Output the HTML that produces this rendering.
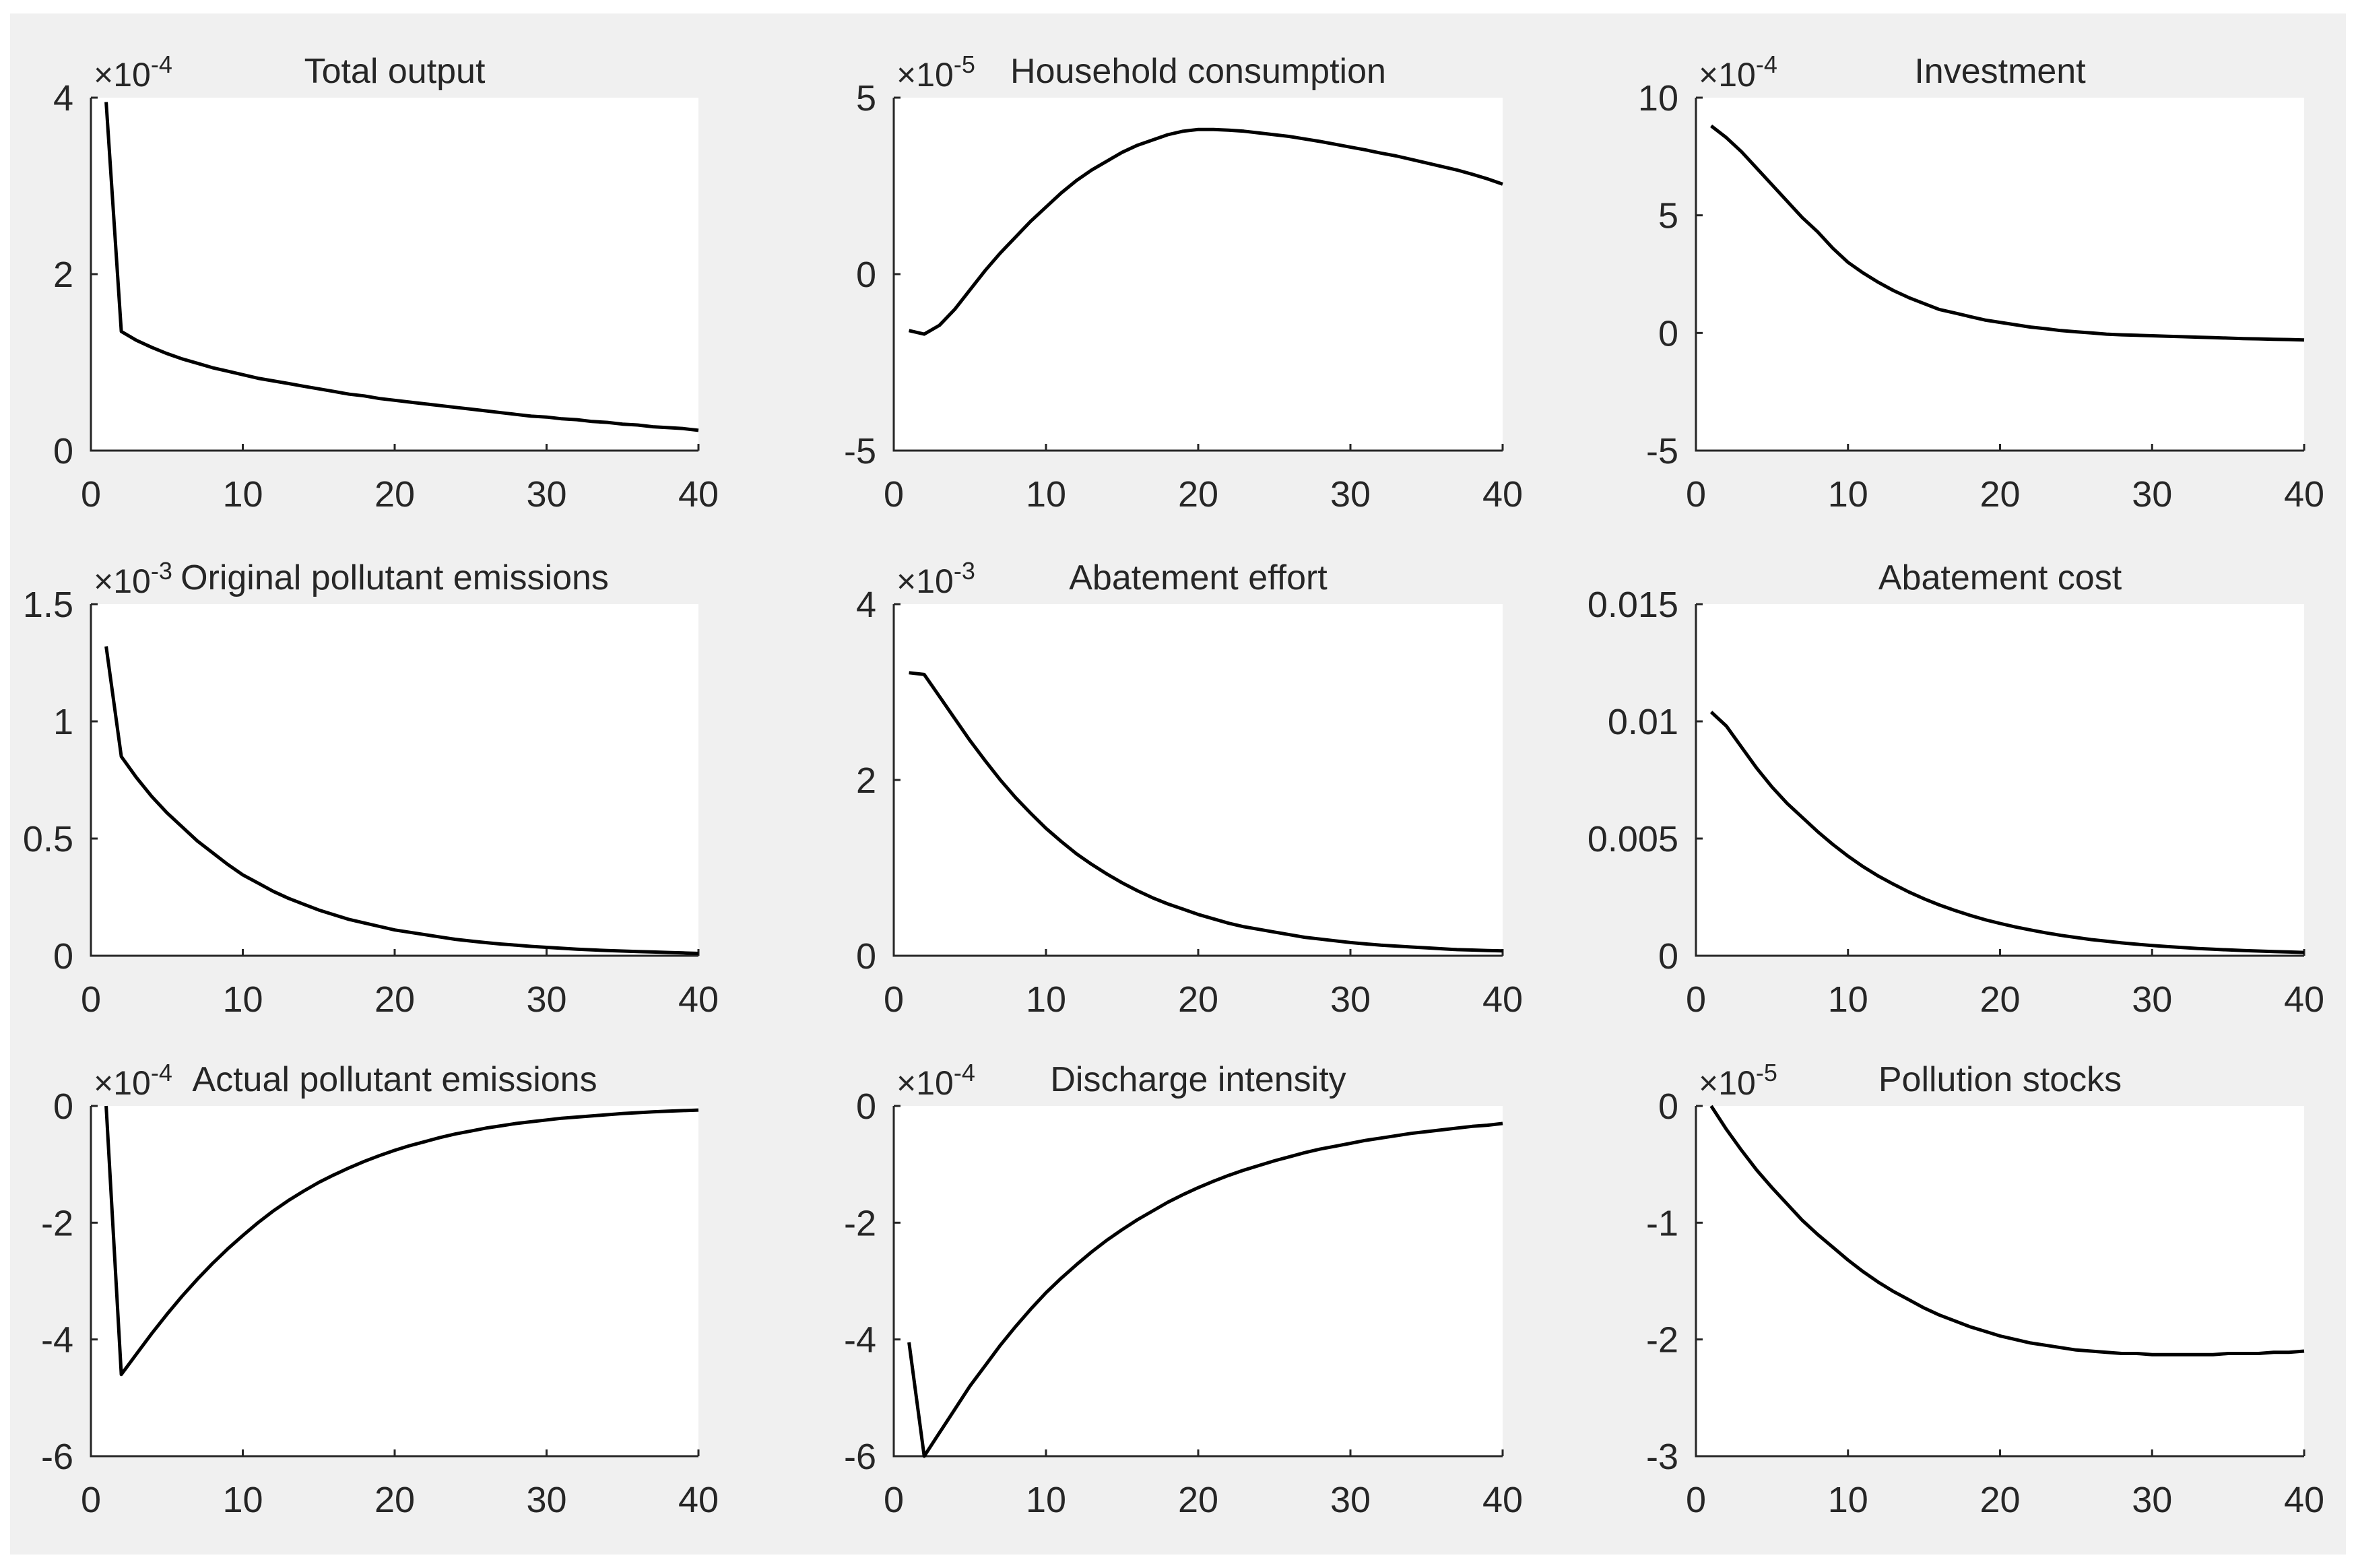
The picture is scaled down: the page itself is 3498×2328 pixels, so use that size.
<!DOCTYPE html>
<html><head><meta charset="utf-8">
<style>
html,body{margin:0;padding:0;background:#fff;}
svg{display:block;}
text{font-family:"Liberation Sans",sans-serif;fill:#262626;}
</style></head>
<body>
<svg id="fig" width="3498" height="2328" viewBox="0 0 3498 2328" xmlns="http://www.w3.org/2000/svg">
<rect x="0" y="0" width="3498" height="2328" fill="#ffffff"/>
<rect x="15" y="20" width="3468" height="2288" fill="#f0f0f0"/>
<g id="plots"></g>
</svg>
<script>
const periods = [1,2,3,4,5,6,7,8,9,10,11,12,13,14,15,16,17,18,19,20,21,22,23,24,25,26,27,28,29,30,31,32,33,34,35,36,37,38,39,40];
const titles = ["Total output","Household consumption","Investment","Original pollutant emissions","Abatement effort","Abatement cost","Actual pollutant emissions","Discharge intensity","Pollution stocks"];
const exponents = ["-4","-5","-4","-3","-3","","-4","-4","-5"];
const xTicks = [0,10,20,30,40];
const yTicks1 = [0,2,4];
const yTicks2 = [-5,0,5];
const yTicks3 = [-5,0,5,10];
const yTicks4 = [0,0.5,1,1.5];
const yTicks5 = [0,2,4];
const yTicks6 = [0,0.005,0.01,0.015];
const yTicks7 = [-6,-4,-2,0];
const yTicks8 = [-6,-4,-2,0];
const yTicks9 = [-3,-2,-1,0];
const yTickLabels6 = ["0","0.005","0.01","0.015"];
const series1 = [3.95,1.35,1.25,1.17,1.10,1.04,0.99,0.94,0.90,0.86,0.82,0.79,0.76,0.73,0.70,0.67,0.64,0.62,0.59,0.57,0.55,0.53,0.51,0.49,0.47,0.45,0.43,0.41,0.39,0.38,0.36,0.35,0.33,0.32,0.30,0.29,0.27,0.26,0.25,0.23];
const series2 = [-1.6,-1.7,-1.45,-1.0,-0.45,0.1,0.6,1.05,1.5,1.9,2.3,2.65,2.95,3.2,3.45,3.65,3.8,3.95,4.05,4.1,4.1,4.08,4.05,4.0,3.95,3.9,3.83,3.76,3.68,3.6,3.52,3.43,3.35,3.25,3.15,3.05,2.95,2.83,2.7,2.55];
const series3 = [8.8,8.3,7.7,7.0,6.3,5.6,4.9,4.3,3.6,3.0,2.55,2.15,1.8,1.5,1.25,1.0,0.85,0.7,0.55,0.45,0.35,0.25,0.18,0.1,0.05,0,-0.05,-0.08,-0.1,-0.12,-0.14,-0.16,-0.18,-0.2,-0.22,-0.24,-0.25,-0.27,-0.28,-0.3];
const series4 = [1.32,0.85,0.76,0.68,0.61,0.55,0.49,0.44,0.39,0.345,0.31,0.275,0.245,0.22,0.195,0.175,0.155,0.14,0.125,0.11,0.1,0.09,0.08,0.07,0.063,0.056,0.05,0.045,0.04,0.036,0.032,0.028,0.025,0.022,0.02,0.018,0.016,0.014,0.012,0.01];
const series5 = [3.22,3.2,2.95,2.7,2.45,2.22,2.0,1.8,1.62,1.45,1.3,1.16,1.04,0.93,0.83,0.74,0.66,0.59,0.53,0.47,0.42,0.37,0.33,0.3,0.27,0.24,0.21,0.19,0.17,0.15,0.135,0.12,0.11,0.1,0.09,0.08,0.07,0.065,0.06,0.055];
const series6 = [0.0104,0.0098,0.0089,0.0080,0.0072,0.0065,0.0059,0.0053,0.00475,0.00425,0.0038,0.0034,0.00305,0.00272,0.00243,0.00217,0.00194,0.00173,0.00154,0.00138,0.00123,0.0011,0.00098,0.00087,0.00078,0.00069,0.00062,0.00055,0.00049,0.00044,0.00039,0.00035,0.00031,0.00028,0.00025,0.00022,0.0002,0.00018,0.00016,0.00014];
const series7 = [0,-4.6,-4.25,-3.9,-3.57,-3.26,-2.97,-2.7,-2.45,-2.22,-2.0,-1.8,-1.62,-1.46,-1.31,-1.18,-1.06,-0.95,-0.85,-0.76,-0.68,-0.61,-0.54,-0.48,-0.43,-0.38,-0.34,-0.3,-0.27,-0.24,-0.21,-0.19,-0.17,-0.15,-0.13,-0.115,-0.1,-0.09,-0.08,-0.07];
const series8 = [-4.05,-6.0,-5.6,-5.2,-4.8,-4.45,-4.1,-3.78,-3.48,-3.2,-2.95,-2.72,-2.5,-2.3,-2.12,-1.95,-1.8,-1.65,-1.52,-1.4,-1.29,-1.19,-1.1,-1.02,-0.94,-0.87,-0.8,-0.74,-0.69,-0.64,-0.59,-0.55,-0.51,-0.47,-0.44,-0.41,-0.38,-0.35,-0.33,-0.3];
const series9 = [0,-0.2,-0.38,-0.55,-0.7,-0.84,-0.98,-1.1,-1.21,-1.32,-1.42,-1.51,-1.59,-1.66,-1.73,-1.79,-1.84,-1.89,-1.93,-1.97,-2.0,-2.03,-2.05,-2.07,-2.09,-2.1,-2.11,-2.12,-2.12,-2.13,-2.13,-2.13,-2.13,-2.13,-2.12,-2.12,-2.12,-2.11,-2.11,-2.1];

const allSeries = [series1,series2,series3,series4,series5,series6,series7,series8,series9];
const allYTicks = [yTicks1,yTicks2,yTicks3,yTicks4,yTicks5,yTicks6,yTicks7,yTicks8,yTicks9];

const NS = "http://www.w3.org/2000/svg";
const colX = [[135,1037],[1327,2231],[2518,3421]];
const rowY = [[145,669],[897,1419],[1642,2162]];
const root = document.getElementById('plots');
function mk(tag, attrs, parent){const e=document.createElementNS(NS,tag);for(const k in attrs)e.setAttribute(k,attrs[k]);parent.appendChild(e);return e;}

for(let i=0;i<9;i++){
  const [L,R]=colX[i%3], [T,B]=rowY[Math.floor(i/3)];
  const yt=allYTicks[i], ymin=yt[0], ymax=yt[yt.length-1];
  const sx=v=>L+(v-0)/(40-0)*(R-L);
  const sy=v=>B-(v-ymin)/(ymax-ymin)*(B-T);
  const g=mk('g',{},root);
  
  
  const bg=mk('rect',{x:L,y:T,width:R-L,height:B-T,fill:'#fff'},g);
  
  
  // axes
  const ax=mk('path',{d:`M${L},${T}L${L},${B}L${R},${B}`,fill:'none',stroke:'#262626','stroke-width':3},g);
  
  
  xTicks.forEach(t=>{
    const x=sx(t);
    mk('line',{x1:x,y1:B,x2:x,y2:B-10,stroke:'#262626','stroke-width':3},g);
    const tx=mk('text',{x:x,y:B+83,'font-size':54,'text-anchor':'middle'},g);
    tx.textContent=t;
    
    
  });
  yt.forEach((t,j)=>{
    const y=sy(t);
    mk('line',{x1:L,y1:y,x2:L+10,y2:y,stroke:'#262626','stroke-width':3},g);
    const tx=mk('text',{x:L-26,y:y+19,'font-size':54,'text-anchor':'end'},g);
    tx.textContent=(i===5)?yTickLabels6[j]:t;
    
    
  });
  const ti=mk('text',{x:(L+R)/2,y:T-22,'font-size':52,'text-anchor':'middle'},g);
  ti.textContent=titles[i];
  
  
  if(exponents[i]){
    const ex=mk('text',{x:L+4,y:T-17,'font-size':50,fill:'#404040'},g);
    
    
    const a=mk('tspan',{},ex);a.textContent='\u00d710';
    const b=mk('tspan',{dy:-20,'font-size':36},ex);b.textContent=exponents[i];
  }
  const d=allSeries[i].map((v,k)=>(k?'L':'M')+sx(periods[k]).toFixed(1)+','+sy(v).toFixed(1)).join('');
  const ln=mk('path',{d:d,fill:'none',stroke:'#000','stroke-width':5,'stroke-linejoin':'round'},g);
  
  
}
</script>
</body></html>
